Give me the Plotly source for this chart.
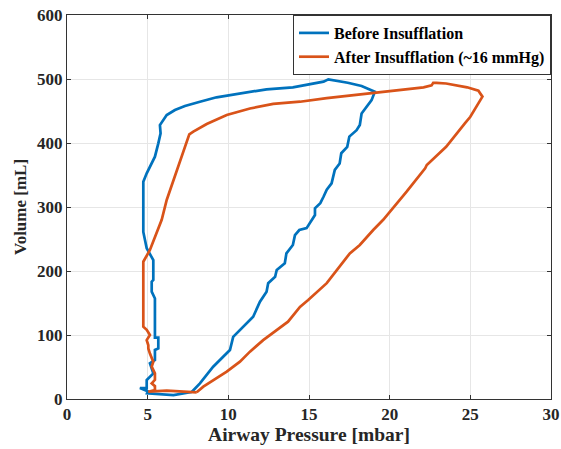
import plotly.graph_objects as go

# Before insufflation loop (pressure mbar, volume mL)
before_p = [7.73, 8.24, 9.06, 10.1, 10.3, 11.13, 11.54, 11.96, 12.37, 12.47, 12.9, 13.0, 13.5, 13.6,
            14.0, 14.13, 14.4, 14.85, 15.37, 15.37, 15.7, 15.9, 16.1, 16.4, 16.6, 16.9, 17.0, 17.37,
            17.5, 17.95, 18.15, 18.26, 18.57, 18.88, 19.08, 18.26, 17.4, 16.7, 16.2, 15.9, 14.0,
            12.37, 10.7, 9.27, 8.24, 7.31, 6.69, 6.18, 5.76, 5.8, 5.66, 5.45, 4.94, 4.73, 4.73,
            4.73, 4.94, 5.35, 5.35, 5.25, 5.25, 5.45, 5.45, 5.45, 5.66, 5.66, 5.45, 5.45, 5.14,
            5.35, 4.94, 4.94, 4.52, 5.0, 4.96, 6.6, 7.73]
before_v = [11, 24.5, 50.5, 76.6, 97, 118, 128.6, 152, 167.7, 181, 191, 201.6, 212, 227.6,
            240.6, 256, 264, 267, 287.5, 298, 306, 316, 327, 337, 358, 368, 384, 394,
            410, 420, 428, 446, 457, 467, 480, 489, 494.2, 497.4, 499.5, 495.8, 487,
            483.9, 477.6, 471.4, 464.5, 457.8, 451.6, 443.7, 428, 415, 399.5, 378.6, 352.6, 339.5, 264,
            261, 235.5, 217, 186, 183.3, 167.7, 157, 100.5, 95.8, 95.8, 79, 76.6, 61, 55.7,
            40, 29.7, 17, 17, 12, 8.9, 6, 11]

# After insufflation (~16 mmHg) loop
after_p = [8.04, 6.18, 5.04, 5.45, 5.45, 5.25, 5.45, 5.45, 5.25, 5.35, 5.14, 5.04, 5.04, 4.94,
           5.14, 4.94, 4.73, 4.73, 4.73, 5.14, 5.55, 5.87, 6.18, 6.8, 7.58, 7.83, 8.66, 9.9,
           11.34, 12.78, 14.44, 16.1, 18.8, 20.6, 22.1, 22.6, 22.7, 22.9, 23.5, 24.8, 25.5,
           25.75, 25.5, 25.0, 24.66, 23.5, 22.3, 22.2, 21.05, 20.0, 19.6, 18.98, 18.15, 17.53,
           16.1, 14.95, 14.44, 13.7, 13.0, 12.16, 11.34, 10.72, 9.9, 9.06, 8.45, 8.04]
after_v = [10.5, 13, 11.4, 14, 20, 24.5, 30, 40, 50.5, 58, 71, 79, 84, 92,
           100, 108, 113, 123.4, 214.5, 232.8, 259, 280, 311, 358, 413.6, 417.7, 429.7, 443.7,
           454, 461, 464.5, 470, 477.6, 481.8, 487, 490, 494, 494, 493, 487, 481.8,
           472.4, 462, 441, 430.8, 394, 365.6, 360.5, 324, 292.7, 280, 264, 240.6, 227.6,
           181, 154.7, 144, 120.8, 107.8, 92, 74, 58.3, 42.7, 29.7, 19.2, 10.5]

x_ticks = [0, 5, 10, 15, 20, 25, 30]
y_ticks = [0, 100, 200, 300, 400, 500, 600]

font_family = "Liberation Serif"

fig = go.Figure()
fig.add_trace(go.Scatter(x=before_p, y=before_v, mode="lines", name="<b>Before Insufflation</b>",
                         line=dict(color="#0072BD", width=2.7)))
fig.add_trace(go.Scatter(x=after_p, y=after_v, mode="lines", name="<b>After Insufflation (~16 mmHg)</b>",
                         line=dict(color="#D95319", width=2.7)))

axis_common = dict(showgrid=True, gridcolor="#e6e6e6", gridwidth=1, zeroline=False,
                   showline=True, linecolor="#333333", linewidth=1, mirror="ticks",
                   ticks="inside", ticklen=4, tickcolor="#333333", automargin=False,
                   ticklabeloverflow="allow",
                   tickfont=dict(family=font_family, size=17, color="#262626"))

fig.update_layout(
    width=561, height=449,
    margin=dict(l=67, r=10, t=15, b=50, autoexpand=False),
    paper_bgcolor="white", plot_bgcolor="white",
    font=dict(family=font_family, color="#262626"),
    xaxis=dict(range=[0, 30], tickvals=x_ticks, ticktext=[f"<b>{t}</b>" for t in x_ticks],
               title=dict(text="<b>Airway Pressure [mbar]</b>", font=dict(size=19.5), standoff=2),
               **axis_common),
    yaxis=dict(range=[0, 600], tickvals=y_ticks, ticktext=[f"<b>{t}</b>" for t in y_ticks],
               title=dict(text="<b>Volume [mL]</b>", font=dict(size=17), standoff=6),
               **axis_common),
    legend=dict(x=1, y=1, xanchor="right", yanchor="top", bgcolor="white",
                bordercolor="#333333", borderwidth=1, font=dict(size=16, color="black"),
                tracegroupgap=0, itemwidth=30),
    showlegend=True,
)

fig.write_html(
    "out.html",
    config={"displayModeBar": False},
    post_script="document.body.style.margin='0';document.body.style.overflow='hidden';",
)
